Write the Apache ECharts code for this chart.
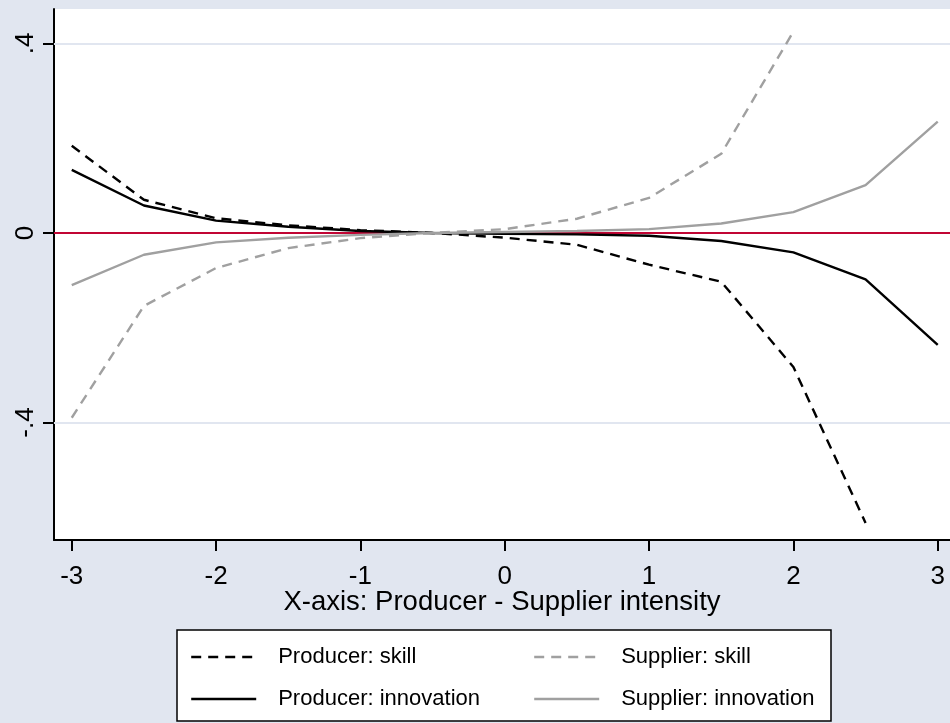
<!DOCTYPE html>
<html>
<head>
<meta charset="utf-8">
<script src="https://cdn.jsdelivr.net/npm/echarts@6/dist/echarts.min.js"></script>
<style>
html,body{margin:0;padding:0;background:#E1E6F0;}
#chart{width:950px;height:723px;}
</style>
</head>
<body>
<div id="chart"></div>
<script>
const xValues = [-3, -2.5, -2, -1.5, -1, -0.5, 0, 0.5, 1, 1.5, 2, 2.5, 3];
const producerSkill = [0.184, 0.070, 0.031, 0.016, 0.006, 0, -0.010, -0.025, -0.067, -0.103, -0.283, -0.612, null];
const supplierSkill = [-0.390, -0.154, -0.074, -0.032, -0.011, 0, 0.008, 0.030, 0.074, 0.167, 0.425, null, null];
const producerInnovation = [0.133, 0.058, 0.026, 0.013, 0.004, 0, -0.002, -0.003, -0.006, -0.017, -0.041, -0.098, -0.236];
const supplierInnovation = [-0.110, -0.046, -0.020, -0.010, -0.004, 0, 0.002, 0.004, 0.008, 0.020, 0.044, 0.101, 0.235];
const xTicks = [-3, -2, -1, 0, 1, 2, 3];
const yTicks = [-0.4, 0, 0.4];
const seriesNames = ['Producer: skill', 'Supplier: skill', 'Producer: innovation', 'Supplier: innovation'];

function pairs(arr) {
  const out = [];
  arr.forEach((v, i) => { if (v !== null) out.push([xValues[i], v]); });
  return out;
}
function fmtY(v) {
  if (Math.abs(v) < 1e-9) return '0';
  const s = String(Math.round(v * 10) / 10);
  return s.replace('0.', '.');
}

const FONT = 'Liberation Sans, Arial, sans-serif';
const chart = echarts.init(document.getElementById('chart'), null, {renderer: 'canvas'});

const dash = [10, 7];
function lineSeries(name, data, color, dashed) {
  return {
    name: name,
    type: 'line',
    data: pairs(data),
    symbol: 'none',
    showSymbol: false,
    silent: true,
    animation: false,
    lineStyle: {color: color, width: 2.4, type: dashed ? dash : 'solid'},
    itemStyle: {color: color},
    z: 5
  };
}

function legendItem(name, left, top) {
  return {
    data: [name],
    left: left,
    top: top,
    itemWidth: 65,
    itemHeight: 14,
    padding: 0,
    selectedMode: false,
    itemStyle: {opacity: 0},
    lineStyle: {width: 2.4},
    textStyle: {fontFamily: FONT, fontSize: 22, color: '#000', padding: [0, 0, 0, 17]}
  };
}

const option = {
  backgroundColor: '#E1E6F0',
  animation: false,
  grid: {left: 54, top: 9, right: 0, bottom: 183, containLabel: false, show: true, backgroundColor: '#FFFFFF', borderWidth: 0},
  xAxis: {
    type: 'value',
    min: -3.123,
    max: 3.085,
    name: 'X-axis: Producer - Supplier intensity',
    nameLocation: 'middle',
    nameGap: 48,
    nameMoveOverlap: false,
    nameTextStyle: {fontFamily: FONT, fontSize: 27.5, color: '#000'},
    axisLine: {show: true, onZero: false, lineStyle: {color: '#000', width: 2}},
    axisTick: {show: true, length: 11, lineStyle: {color: '#000', width: 2}, customValues: xTicks},
    axisLabel: {show: true, fontFamily: FONT, fontSize: 26, color: '#000', margin: 24, customValues: xTicks, formatter: v => String(v)},
    splitLine: {show: false}
  },
  yAxis: {
    type: 'value',
    min: -0.648,
    max: 0.4726,
    axisLine: {show: true, onZero: false, lineStyle: {color: '#000', width: 2}},
    axisTick: {show: true, length: 11, lineStyle: {color: '#000', width: 2}, customValues: yTicks},
    axisLabel: {show: true, fontFamily: FONT, fontSize: 26, color: '#000', margin: 15, rotate: 90, customValues: yTicks, formatter: fmtY},
    splitLine: {show: false}
  },
  legend: [
    legendItem(seriesNames[0], 190, 646),
    legendItem(seriesNames[1], 533, 646),
    legendItem(seriesNames[2], 190, 688),
    legendItem(seriesNames[3], 533, 688)
  ],
  graphic: [
    {type: 'rect', shape: {x: 177, y: 630, width: 654, height: 91}, style: {fill: '#FFFFFF', stroke: '#000', lineWidth: 1.5}, z: -1, silent: true}
  ],
  series: [
    {
      name: 'grid',
      type: 'line',
      data: [],
      silent: true,
      z: 2,
      markLine: {
        silent: true, symbol: 'none', label: {show: false}, animation: false,
        lineStyle: {color: '#E1E6F0', width: 2, type: 'solid'},
        data: yTicks.filter(v => v !== 0).map(v => ({yAxis: v}))
      }
    },
    lineSeries(seriesNames[0], producerSkill, '#000000', true),
    lineSeries(seriesNames[1], supplierSkill, '#A0A0A0', true),
    lineSeries(seriesNames[2], producerInnovation, '#000000', false),
    lineSeries(seriesNames[3], supplierInnovation, '#A0A0A0', false),
    {
      name: 'zero',
      type: 'line',
      data: [],
      silent: true,
      z: 3,
      markLine: {
        silent: true, symbol: 'none', label: {show: false}, animation: false,
        lineStyle: {color: '#C10534', width: 2, type: 'solid'},
        data: [{yAxis: 0}]
      }
    }
  ]
};
chart.setOption(option);
</script>
</body>
</html>
